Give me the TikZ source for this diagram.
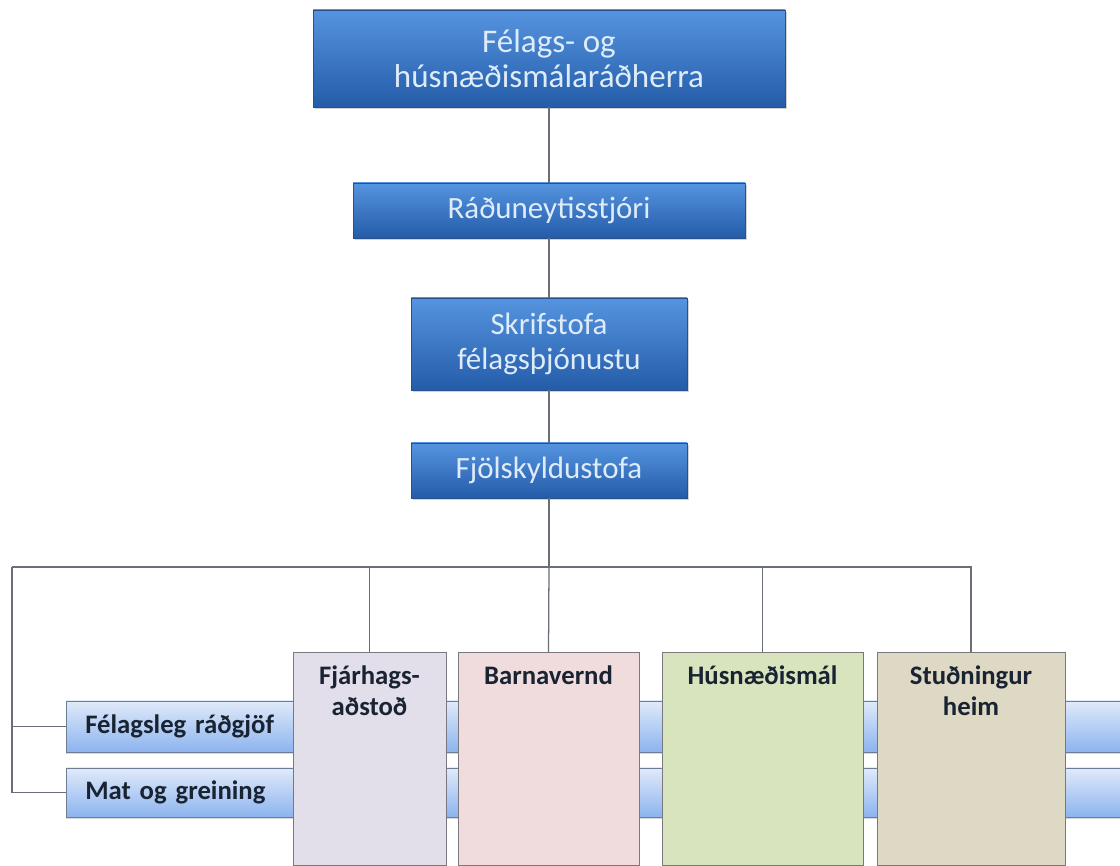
\documentclass[tikz,border=0pt]{standalone}
\usepackage{fontspec}
\setmainfont{Carlito}
\usepackage{xcolor}
\usepackage{tikz}
\usetikzlibrary{shadows}
\definecolor{orgblue}{RGB}{52, 112, 196}
\definecolor{orgbluetop}{RGB}{86, 148, 224}
\definecolor{orgbluebot}{RGB}{36, 92, 168}
\definecolor{orgedge}{RGB}{40, 80, 140}
\definecolor{orgtext}{RGB}{222, 236, 250}
\definecolor{bartop}{RGB}{224, 234, 250}
\definecolor{barbot}{RGB}{140, 180, 238}
\definecolor{bargray}{RGB}{110, 125, 150}
\definecolor{bartext}{RGB}{25, 35, 50}
\definecolor{unitgray}{RGB}{120, 120, 125}
\definecolor{unitlilac}{RGB}{226, 223, 235}
\definecolor{unitpink}{RGB}{240, 220, 220}
\definecolor{unitgreen}{RGB}{216, 228, 190}
\definecolor{unittan}{RGB}{222, 217, 196}
\definecolor{linkgray}{RGB}{105, 110, 120}

\begin{document}
\begin{tikzpicture}[
    bluebox/.style={draw=orgedge, top color=orgbluetop, middle color=orgblue, bottom color=orgbluebot,
        text=orgtext, font=\fontsize{22}{25}\selectfont, align=center,
        drop shadow={opacity=0.35, shadow xshift=0.04cm, shadow yshift=-0.06cm}},
    unitbox/.style={draw=unitgray, fill=#1, anchor=north, align=center,
        font=\bfseries\fontsize{19}{22}\selectfont, text=bartext,
        inner xsep=0.1cm, inner ysep=0.25cm, text height=0.55cm, text depth=4.275cm},
    barbox/.style={draw=bargray, top color=bartop, bottom color=barbot, anchor=west,
        font=\bfseries\fontsize{19}{22}\selectfont, text=bartext, align=left,
        inner xsep=0.475cm, text width=25.6cm,
        drop shadow={opacity=0.3, shadow xshift=0cm, shadow yshift=-0.05cm}},
    link/.style={draw=linkgray, line width=0.9pt}
]
    % Page area
    \useasboundingbox (0,0) rectangle (28,21.65);

    % Chain of command
    \node[bluebox, minimum width=11.8cm, minimum height=2.425cm, font=\fontsize{23.5}{25}\selectfont] (minister) at (13.725,20.19) {Félags- og\\húsnæðismálaráðherra};
    \node[bluebox, minimum width=9.8cm, minimum height=1.375cm] (secretary) at (13.725,16.39) {Ráðuneytisstjóri};
    \node[bluebox, minimum width=6.9cm, minimum height=2.3cm] (office) at (13.725,13.05) {Skrifstofa\\félagsþjónustu};
    \node[bluebox, minimum width=6.9cm, minimum height=1.375cm] (family) at (13.725,9.89) {Fjölskyldustofa};

    % Cross-cutting bars
    \node[barbox, minimum height=1.275cm] (counsel) at (1.65,3.4875) {Félagsleg ráðgjöf};
    \node[barbox, minimum height=1.225cm] (assess) at (1.65,1.8375) {Mat og greining};

    % Units
    \node[unitbox=unitlilac, text width=3.625cm] (finance) at (9.2375,5.35) {Fjárhags-\\aðstoð};
    \node[unitbox=unitpink, text width=4.325cm] (child) at (13.7125,5.35) {Barnavernd};
    \node[unitbox=unitgreen, text width=4.825cm] (housing) at (19.0625,5.35) {Húsnæðismál};
    \node[unitbox=unittan, text width=4.5cm] (support) at (24.275,5.35) {Stuðningur\\heim};

    % Connectors
    \coordinate (hub) at (13.725,7.475);
    \coordinate (corner) at (0.3,7.475);
    \draw[link] (minister) -- (secretary);
    \draw[link] (secretary) -- (office);
    \draw[link] (office) -- (family);
    \draw[link] (family) -- (hub);
    \draw[link] (corner) -- (hub -| support.north) -- (support.north);
    \draw[link] (hub -| finance.north) -- (finance.north);
    \draw[link] (hub) -- (child.north);
    \draw[link] (hub -| housing.north) -- (housing.north);
    \draw[link] (corner) |- (counsel.west);
    \draw[link] (corner) |- (assess.west);
\end{tikzpicture}
\end{document}
